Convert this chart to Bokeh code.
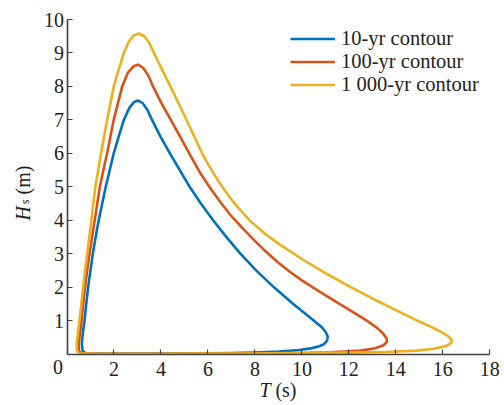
from bokeh.plotting import figure
from bokeh.models import Label, Legend, LegendItem, FixedTicker, ColumnDataSource
from bokeh.embed import file_html
from bokeh.resources import INLINE

# ---- data ----
blue_T = [0.80, 0.66, 0.63, 0.67, 0.745, 0.82, 0.90, 1.00, 1.10, 1.22, 1.35, 1.50, 1.65, 1.82, 1.99, 2.20, 2.42, 2.65, 2.85, 3.01, 3.22, 3.42, 3.62, 3.98, 4.38, 4.80, 5.22, 5.70, 6.22, 6.78, 7.38, 8.05, 8.80, 9.62, 10.15, 10.50, 10.85, 11.02, 11.10, 11.07, 10.95, 10.70, 10.30, 9.90, 9.0, 8.0, 7.0, 6.0, 4.0, 2.0, 1.0, 0.80]
blue_H = [0.02, 0.10, 0.30, 0.60, 1.0, 1.5, 2.0, 2.5, 3.0, 3.5, 4.0, 4.5, 5.0, 5.5, 6.0, 6.5, 7.0, 7.35, 7.53, 7.58, 7.50, 7.30, 7.0, 6.5, 6.0, 5.5, 5.0, 4.5, 4.0, 3.5, 3.0, 2.5, 2.0, 1.5, 1.2, 1.0, 0.8, 0.65, 0.52, 0.40, 0.30, 0.22, 0.16, 0.12, 0.07, 0.045, 0.03, 0.02, 0.012, 0.01, 0.012, 0.02]

red_T = [0.60, 0.50, 0.50, 0.55, 0.62, 0.69, 0.77, 0.86, 0.96, 1.07, 1.18, 1.29, 1.40, 1.55, 1.71, 1.85, 1.99, 2.17, 2.35, 2.60, 2.85, 3.03, 3.25, 3.48, 3.66, 4.02, 4.42, 4.85, 5.28, 5.70, 6.11, 6.55, 7.00, 7.50, 8.00, 8.50, 9.00, 9.50, 10.00, 10.80, 11.60, 12.30, 12.80, 13.20, 13.45, 13.60, 13.62, 13.47, 13.12, 12.50, 11.20, 10.0, 8.0, 6.0, 4.0, 2.0, 1.0, 0.60]
red_H = [0.02, 0.10, 0.30, 0.6, 1.0, 1.5, 2.0, 2.5, 3.0, 3.5, 4.0, 4.5, 5.0, 5.5, 6.0, 6.5, 7.0, 7.5, 8.0, 8.42, 8.61, 8.65, 8.55, 8.30, 8.0, 7.5, 7.0, 6.45, 5.90, 5.38, 4.95, 4.52, 4.12, 3.74, 3.38, 3.04, 2.73, 2.45, 2.20, 1.84, 1.50, 1.20, 0.98, 0.78, 0.62, 0.47, 0.36, 0.26, 0.17, 0.10, 0.05, 0.03, 0.018, 0.012, 0.008, 0.008, 0.01, 0.02]

yel_T = [0.50, 0.42, 0.41, 0.46, 0.53, 0.61, 0.69, 0.77, 0.86, 0.95, 1.04, 1.12, 1.21, 1.33, 1.45, 1.58, 1.71, 1.85, 1.99, 2.20, 2.42, 2.62, 2.83, 3.06, 3.30, 3.50, 3.70, 4.05, 4.40, 4.76, 5.12, 5.45, 5.75, 6.11, 6.50, 6.90, 7.30, 7.80, 8.40, 9.00, 10.0, 11.0, 12.0, 13.0, 14.0, 14.5, 15.0, 15.5, 15.9, 16.2, 16.38, 16.36, 16.15, 15.60, 14.90, 13.50, 12.0, 10.0, 8.0, 6.0, 4.0, 2.0, 1.0, 0.50]
yel_H = [0.02, 0.10, 0.30, 0.6, 1.0, 1.5, 2.0, 2.5, 3.0, 3.5, 4.0, 4.5, 5.0, 5.5, 6.0, 6.5, 7.0, 7.5, 8.0, 8.5, 9.0, 9.32, 9.52, 9.58, 9.50, 9.30, 9.0, 8.5, 8.0, 7.48, 6.95, 6.45, 6.0, 5.55, 5.11, 4.71, 4.36, 3.98, 3.61, 3.30, 2.84, 2.42, 2.03, 1.66, 1.31, 1.14, 0.97, 0.81, 0.67, 0.55, 0.43, 0.33, 0.24, 0.155, 0.10, 0.06, 0.04, 0.025, 0.015, 0.01, 0.008, 0.008, 0.01, 0.02]

series_labels = ["10-yr contour", "100-yr contour", "1 000-yr contour"]
series_colors = ["#0072BD", "#D95319", "#EDB120"]
x_ticks = [0, 2, 4, 6, 8, 10, 12, 14, 16, 18]
y_ticks = [0, 1, 2, 3, 4, 5, 6, 7, 8, 9, 10]
x_axis_span = (0, 18)
y_axis_span = (0, 10)

FONT = "Liberation Serif"
FS = "20px"
AX = "#404040"
TXT = "#222222"

# canvas and where the axis box sits on it (pixels)
W, Hc = 502, 403
AX_LEFT, AX_RIGHT, AX_TOP, AX_BOTTOM = 66.5, 489.3, 19.0, 353.5
sx = (AX_RIGHT - AX_LEFT) / (x_axis_span[1] - x_axis_span[0])
sy = (AX_BOTTOM - AX_TOP) / (y_axis_span[1] - y_axis_span[0])
x0 = x_axis_span[0] - AX_LEFT / sx
x1 = x0 + W / sx
y1 = y_axis_span[1] + AX_TOP / sy
y0 = y1 - Hc / sy

p = figure(width=W, height=Hc, x_range=(x0, x1), y_range=(y0, y1),
           output_backend="svg", toolbar_location=None,
           min_border_left=0, min_border_right=0, min_border_top=0, min_border_bottom=0)
p.title.visible = False
p.outline_line_color = None
p.xgrid.visible = False
p.ygrid.visible = False
p.background_fill_color = "white"
p.border_fill_color = "white"

renderers = []
for T, H, c in zip([blue_T, red_T, yel_T], [blue_H, red_H, yel_H], series_colors):
    src = ColumnDataSource(dict(x=T, y=H))
    r = p.line("x", "y", source=src, line_color=c, line_width=2.6, line_join="round")
    renderers.append(r)

for ax in (p.xaxis[0], p.yaxis[0]):
    ax.fixed_location = 0
    ax.axis_line_color = AX
    ax.axis_line_width = 1.6
    ax.major_tick_line_color = AX
    ax.major_tick_line_width = 1.2
    ax.major_tick_in = 5
    ax.major_tick_out = 0
    ax.minor_tick_line_color = None
    ax.major_label_text_font = FONT
    ax.major_label_text_font_size = FS
    ax.major_label_text_color = TXT
    ax.axis_label = None

p.xaxis[0].bounds = x_axis_span
p.yaxis[0].bounds = y_axis_span
p.xaxis[0].ticker = FixedTicker(ticks=x_ticks)
p.yaxis[0].ticker = FixedTicker(ticks=y_ticks)
p.xaxis[0].major_label_overrides = {0: ""}
p.yaxis[0].major_label_overrides = {0: ""}
p.xaxis[0].major_label_standoff = 8
p.yaxis[0].major_label_standoff = 3

def lab(text, x, y, dx, dy, style="normal", size=FS, align="left", angle=0):
    p.add_layout(Label(x=x, y=y, x_offset=dx, y_offset=dy, text=text,
                       text_font=FONT, text_font_style=style, text_font_size=size,
                       text_color=TXT, text_align=align, text_baseline="alphabetic",
                       angle=angle, angle_units="deg"))

# origin label
lab("0", 0, 0, -9, -12.5, align="center")
# x axis label: T (s)
lab("T", 9, 0, -19, -35.5, style="italic")
lab("(s)", 9, 0, -3, -35.5)
# y axis label: H_s (m)
lab("H", 0, 0, -44.5, 133.5, style="italic", angle=90)
lab("s", 0, 0, -42.5, 149.5, style="italic", size="13px", angle=90)
lab("(m)", 0, 0, -44, 159.5, angle=90)

# legend: one row per contour
row_centers = [38.9, 61.7, 84.5]
ROW_H = 23
for l, r, cy in zip(series_labels, renderers, row_centers):
    top = cy - ROW_H / 2
    lg = Legend(items=[LegendItem(label=l, renderers=[r])],
                location=(290, Hc - ROW_H - top))
    lg.label_text_font = FONT
    lg.label_text_font_size = "20.5px"
    lg.label_text_color = TXT
    lg.glyph_width = 45
    lg.glyph_height = ROW_H
    lg.label_height = ROW_H
    lg.label_standoff = 6
    lg.spacing = 0
    lg.padding = 0
    lg.margin = 0
    lg.border_line_alpha = 0
    lg.background_fill_alpha = 0
    p.add_layout(lg)

open("out.html", "w").write(file_html(p, INLINE))
